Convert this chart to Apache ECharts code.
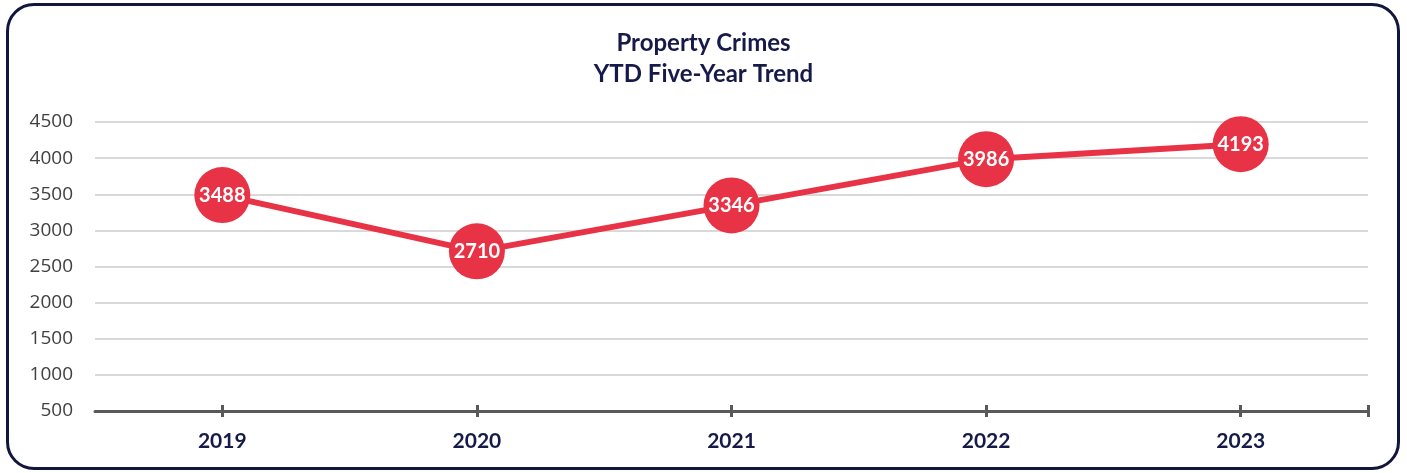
<!DOCTYPE html>
<html>
<head>
<meta charset="utf-8">
<script src="https://cdn.jsdelivr.net/npm/echarts@6/dist/echarts.min.js"></script>
<style>
    html, body { margin: 0; padding: 0; background: #fff; }
    #frame {
        position: absolute; left: 6px; top: 3px;
        width: 1388px; height: 461px;
        border: 3px solid #12163f; border-radius: 28px;
    }
    #chart { position: absolute; left: 0; top: 0; width: 1407px; height: 473px; }
</style>
</head>
<body>
<div id="frame"></div>
<div id="chart"></div>
<script>
    var years = ['2019', '2020', '2021', '2022', '2023'];
    var crimes = [3488, 2710, 3346, 3986, 4193];
    var titleLines = ['Property Crimes', 'YTD Five-Year Trend'];
    // tick spots: the category centres plus the right end of the axis
    var tickSpots = [0, 1, 2, 3, 4, 4.5];

    var myChart = echarts.init(document.getElementById('chart'));
    var navy = '#161a48';
    var red = '#e83245';
    var axisGray = '#595959';

    var option = {
        animation: false,
        title: {
            text: titleLines.join('\n'),
            left: 'center',
            top: 23,
            textStyle: {
                fontFamily: 'Lato',
                fontWeight: 'bold',
                fontSize: 24,
                lineHeight: 31,
                color: navy
            }
        },
        grid: { left: 95, right: 39, top: 122, bottom: 62 },
        xAxis: [{
            type: 'category',
            data: years,
            boundaryGap: true,
            position: 'bottom',
            axisLine: { lineStyle: { color: axisGray, width: 3 } },
            axisTick: { show: false },
            axisLabel: {
                margin: 20,
                fontFamily: 'Lato',
                fontWeight: 'bold',
                fontSize: 21,
                color: navy
            }
        }, {
            // only draws the ticks that cross the axis line
            type: 'value',
            min: -0.5,
            max: 4.5,
            position: 'bottom',
            offset: -6,
            axisLine: { show: false },
            splitLine: { show: false },
            axisLabel: { show: false },
            axisTick: {
                show: true,
                customValues: tickSpots,
                length: 12,
                lineStyle: { color: axisGray, width: 3 }
            }
        }],
        yAxis: {
            type: 'value',
            min: 500,
            max: 4500,
            interval: 500,
            axisLine: { show: false },
            axisTick: { show: false },
            splitLine: { lineStyle: { color: '#d9d9d9', width: 2 } },
            axisLabel: {
                margin: 22,
                formatter: function (v) { return String(v); },
                fontFamily: 'Open Sans',
                fontSize: 19,
                color: '#404040'
            }
        },
        series: [{
            name: 'Property Crimes',
            type: 'line',
            data: crimes,
            symbol: 'circle',
            symbolSize: 56,
            lineStyle: { color: red, width: 6 },
            itemStyle: { color: red },
            label: {
                show: true,
                position: 'inside',
                color: '#fff',
                fontFamily: 'Lato',
                fontWeight: 'bold',
                fontSize: 20
            }
        }]
    };

    myChart.setOption(option);
</script>
</body>
</html>
